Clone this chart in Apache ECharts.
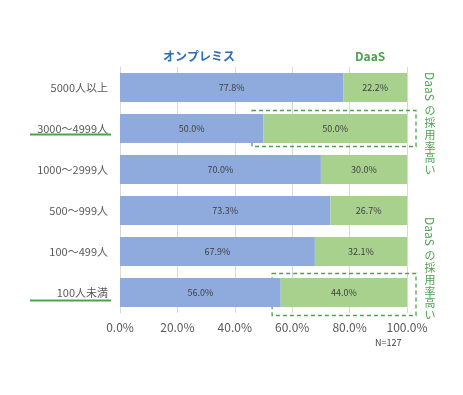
<!DOCTYPE html>
<html><head><meta charset="utf-8">
<script src="https://cdn.jsdelivr.net/npm/echarts@6/dist/echarts.min.js"></script>
<style>html,body{margin:0;padding:0;background:#fff}#c{width:463px;height:395px}</style>
</head><body><div id="c"></div>
<script>
const categories = ['5000人以上','3000～4999人','1000～2999人','500～999人','100～499人','100人未満'];
const onprem = [77.8, 50.0, 70.0, 73.3, 67.9, 56.0];
const daas = [22.2, 50.0, 30.0, 26.7, 32.1, 44.0];
const xTicks = [0, 20, 40, 60, 80, 100];
const seriesNames = ['オンプレミス', 'DaaS'];
const highlighted = [1, 5];
const boxStart = [46, 53];
const FONT = '"Noto Sans CJK JP", "Noto Sans", sans-serif';

const chart = echarts.init(document.getElementById('c'), null, {renderer: 'canvas'});
const labelCfg = {show: true, position: 'inside', color: '#404040', fontSize: 9, fontFamily: FONT,
  formatter: p => p.value.toFixed(1) + '%'};
chart.setOption({
  animation: false,
  grid: {left: 120, right: 56, top: 67, bottom: 82, containLabel: false},
  xAxis: {type: 'value', min: xTicks[0], max: xTicks[xTicks.length - 1], interval: 20,
    axisLabel: {formatter: v => v.toFixed(1) + '%', color: '#595959', fontSize: 12, fontFamily: FONT, margin: 8},
    splitLine: {lineStyle: {color: '#d9d9d9'}}, axisLine: {show: false}, axisTick: {show: false}},
  yAxis: {type: 'category', data: categories, inverse: true,
    axisLabel: {color: '#595959', fontSize: 11, fontFamily: FONT, margin: 12},
    axisLine: {lineStyle: {color: '#d9d9d9'}}, axisTick: {show: false}},
  series: [
    {name: seriesNames[0], type: 'bar', stack: 's', data: onprem, barWidth: '71%', itemStyle: {color: '#8faadc'}, label: labelCfg},
    {name: seriesNames[1], type: 'bar', stack: 's', data: daas, barWidth: '71%', itemStyle: {color: '#a9d18e'}, label: labelCfg}
  ]
});

function draw() {
  const g = [];
  const green = '#4ea24e';
  g.push({type: 'text', left: 163, top: 50, style: {text: seriesNames[0], fill: '#2e6db4', font: 'bold 12px ' + FONT}});
  g.push({type: 'text', left: 355, top: 50, style: {text: seriesNames[1], fill: '#4ea24e', font: 'bold 12px ' + FONT}});
  highlighted.forEach((ci, k) => {
    const c = chart.convertToPixel({gridIndex: 0}, [boxStart[k], ci]);
    const e = chart.convertToPixel({gridIndex: 0}, [100, ci]);
    const half = k === 0 ? 18 : 21;
    const off = k === 0 ? 0 : 2;
    g.push({type: 'rect', shape: {x: c[0], y: c[1] - half + off, width: e[0] + 9 - c[0], height: half * 2},
      style: {fill: 'none', stroke: green, lineWidth: 1.3, lineDash: [4, 3]}});
    g.push({type: 'line', shape: {x1: 30, y1: c[1] + 6 + off, x2: 111, y2: c[1] + 6 + off},
      style: {stroke: green, lineWidth: 2}});
    const top = k === 0 ? 72 : 217;
    g.push({type: 'text', x: 430, y: top, rotation: -Math.PI / 2,
      style: {text: 'DaaS', fill: green, font: '12px ' + FONT, textAlign: 'left', textVerticalAlign: 'middle'}});
    const chars = 'の採用率高い'.split('');
    chars.forEach((ch, i) => {
      g.push({type: 'text', x: 430, y: top + 39 + i * 11.8,
        style: {text: ch, fill: green, font: '11px ' + FONT, textAlign: 'center', textVerticalAlign: 'middle'}});
    });
  });
  g.push({type: 'text', left: 375, top: 338, style: {text: 'N=127', fill: '#404040', font: '9px ' + FONT}});
  chart.setOption({graphic: g});
}
draw();
</script>
</body></html>
